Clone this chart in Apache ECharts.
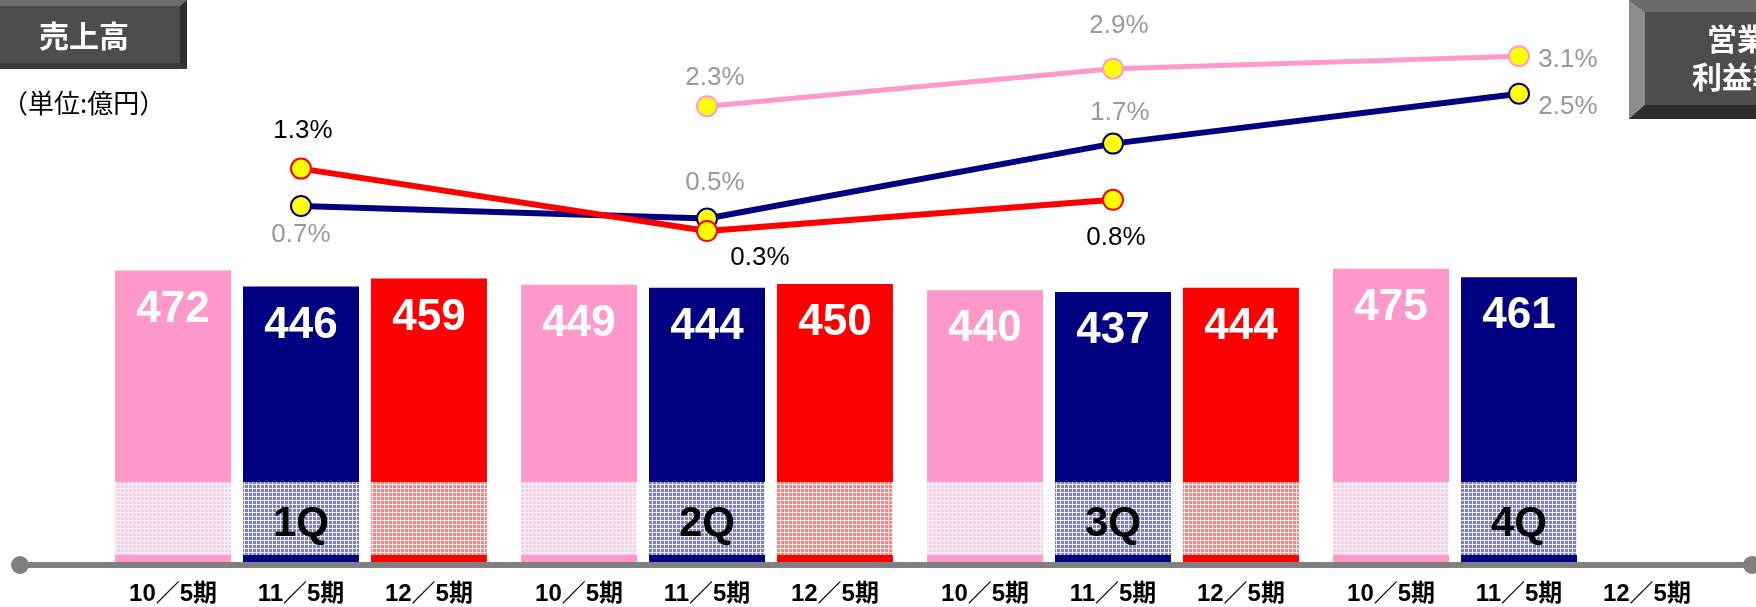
<!DOCTYPE html>
<html>
<head>
<meta charset="utf-8">
<title>売上高</title>
<script src="https://cdn.jsdelivr.net/npm/echarts@6/dist/echarts.min.js"></script>
<style>body{margin:0;background:#fff;} #main{width:1756px;height:607px;}</style>
</head>
<body>
<div id="main"></div>
<script>
// quarters on the x axis, periods are the three bars in each quarter
var quarters = ['1Q', '2Q', '3Q', '4Q'];
var periods = ['10／5期', '11／5期', '12／5期'];

// sales (億円)
var sales10 = [472, 449, 440, 475];
var sales11 = [446, 444, 437, 461];
var sales12 = [459, 450, 444, '-'];

// operating margin (%)
var margin10 = ['-', 2.3, 2.9, 3.1];
var margin11 = [0.7, 0.5, 1.7, 2.5];
var margin12 = [1.3, 0.3, 0.8, '-'];

var colors = ['#ff99cc', '#000080', '#ff0000'];
var labelColors = ['#999999', '#999999', '#000000'];
var latin = "'Liberation Sans',Arial,'Noto Sans CJK JP',sans-serif";

// where each % label sits relative to its point
var labelOffsets = [
    [[0, 0], [8, -28], [6, -43], [49, 4]],
    [[0, 29], [8, -36], [7, -31], [49, 13]],
    [[2, -38], [53, 27], [3, 38], [0, 0]]
];

var sales = [sales10, sales11, sales12];
var margins = [margin10, margin11, margin12];

// light mesh drawn over the lower part of the bars
var pc = document.createElement('canvas');
pc.width = 4; pc.height = 4;
var pctx = pc.getContext('2d');
pctx.fillStyle = 'rgba(255,255,255,0.5)';
pctx.fillRect(0, 0, 4, 4);
pctx.fillStyle = 'rgba(255,255,255,0.85)';
pctx.fillRect(0, 0, 4, 1);
pctx.fillRect(0, 0, 1, 4);

var series = [];
for (var k = 0; k < 3; k++) {
    // zero-height bar just to carry the period label under each slot
    series.push({
        type: 'bar',
        stack: 's' + k,
        data: [0, 0, 0, 0],
        barWidth: 116,
        barGap: '10.3%',
        silent: true,
        itemStyle: { color: 'rgba(0,0,0,0)' },
        label: {
            show: true,
            position: 'bottom',
            distance: 20,
            formatter: periods[k],
            color: '#000',
            fontSize: 24,
            fontWeight: 'bold',
            fontFamily: latin
        }
    });
    series.push({
        name: periods[k],
        type: 'bar',
        stack: 's' + k,
        data: sales[k],
        barWidth: 116,
        barGap: '10.3%',
        itemStyle: { color: colors[k] },
        label: {
            show: true,
            position: 'insideTop',
            distance: 17,
            color: '#fff',
            fontSize: 44,
            lineHeight: 44,
            fontWeight: 'bold',
            fontFamily: latin
        }
    });
}
for (var k = 0; k < 3; k++) {
    (function (k) {
        series.push({
            name: periods[k] + '利益率',
            type: 'line',
            yAxisIndex: 1,
            z: 5 + k,
            symbol: 'circle',
            symbolSize: 20,
            data: margins[k].map(function (v, i) {
                return { value: v, label: { offset: labelOffsets[k][i] } };
            }),
            lineStyle: { color: colors[k], width: k === 0 ? 5 : 6 },
            itemStyle: { color: '#ffff00', borderColor: colors[k], borderWidth: 2 },
            label: {
                show: true,
                position: 'inside',
                align: 'center',
                verticalAlign: 'middle',
                formatter: function (p) { return p.value + '%'; },
                color: labelColors[k],
                fontSize: 26,
                fontFamily: latin
            }
        });
    })(k);
}

var myChart = echarts.init(document.getElementById('main'));
var option = {
    animation: false,
    backgroundColor: '#fff',
    grid: { left: 98, right: 34, top: 0, bottom: 45 },
    xAxis: {
        type: 'category',
        data: quarters,
        z: 20,
        axisLine: { show: false },
        axisTick: { show: false },
        axisLabel: {
            inside: true,
            margin: 17,
            color: '#000',
            fontSize: 42,
            fontWeight: 'bold',
            fontFamily: latin
        }
    },
    yAxis: [
        { type: 'value', min: 0, max: 910, show: false },
        { type: 'value', min: -5, max: 4, show: false }
    ],
    series: series,
    graphic: [
        // 売上高 box
        { type: 'rect', shape: { x: 0, y: 0, width: 187, height: 69 }, style: { fill: '#2f2f2f' } },
        { type: 'polygon', shape: { points: [[0, 0], [187, 0], [180, 6], [0, 6]] }, style: { fill: '#6e6e6e' } },
        { type: 'polygon', shape: { points: [[0, 69], [187, 69], [180, 63], [0, 63]] }, style: { fill: '#3a3a3a' } },
        { type: 'rect', shape: { x: 0, y: 6, width: 180, height: 57 }, style: { fill: '#4d4d4d' } },
        { type: 'text', x: 84, y: 36, style: { text: '売上高', fill: '#fff', font: 'bold 30px "Noto Sans CJK JP"', textAlign: 'center', textVerticalAlign: 'middle' } },
        { type: 'text', x: 2, y: 103, style: { text: '（単位:億円）', fill: '#000', font: '26px "Noto Sans CJK JP"', textAlign: 'left', textVerticalAlign: 'middle' } },
        // 営業利益率 box (cut by the right edge)
        { type: 'rect', shape: { x: 1629, y: 0, width: 140, height: 119 }, style: { fill: '#3a3a3a' } },
        { type: 'polygon', shape: { points: [[1629, 0], [1800, 0], [1800, 12], [1645, 12]] }, style: { fill: '#6a6a6a' } },
        { type: 'polygon', shape: { points: [[1629, 0], [1645, 12], [1645, 105], [1629, 119]] }, style: { fill: '#8c8c8c' } },
        { type: 'polygon', shape: { points: [[1629, 119], [1645, 105], [1800, 105], [1800, 119]] }, style: { fill: '#2e2e2e' } },
        { type: 'rect', shape: { x: 1645, y: 12, width: 160, height: 93 }, style: { fill: '#4d4d4d' } },
        { type: 'text', x: 1737, y: 58, style: { text: '営業\n利益率', fill: '#fff', font: 'bold 30px "Noto Sans CJK JP"', lineHeight: 38, textAlign: 'center', textVerticalAlign: 'middle' } },
        // mesh band over the lower part of the bars
        { type: 'rect', z: 5, silent: true, shape: { x: 100, y: 482, width: 1620, height: 73 }, style: { fill: { image: pc, repeat: 'repeat' } } },
        // baseline with round ends
        { type: 'line', z: 10, shape: { x1: 20, y1: 565, x2: 1752, y2: 565 }, style: { stroke: '#808080', lineWidth: 6 } },
        { type: 'circle', z: 10, shape: { cx: 20, cy: 565, r: 9 }, style: { fill: '#808080' } },
        { type: 'circle', z: 10, shape: { cx: 1752, cy: 565, r: 9 }, style: { fill: '#808080' } }
    ]
};
myChart.setOption(option);
window.onresize = function () {
    myChart.resize();
};
</script>
</body>
</html>
